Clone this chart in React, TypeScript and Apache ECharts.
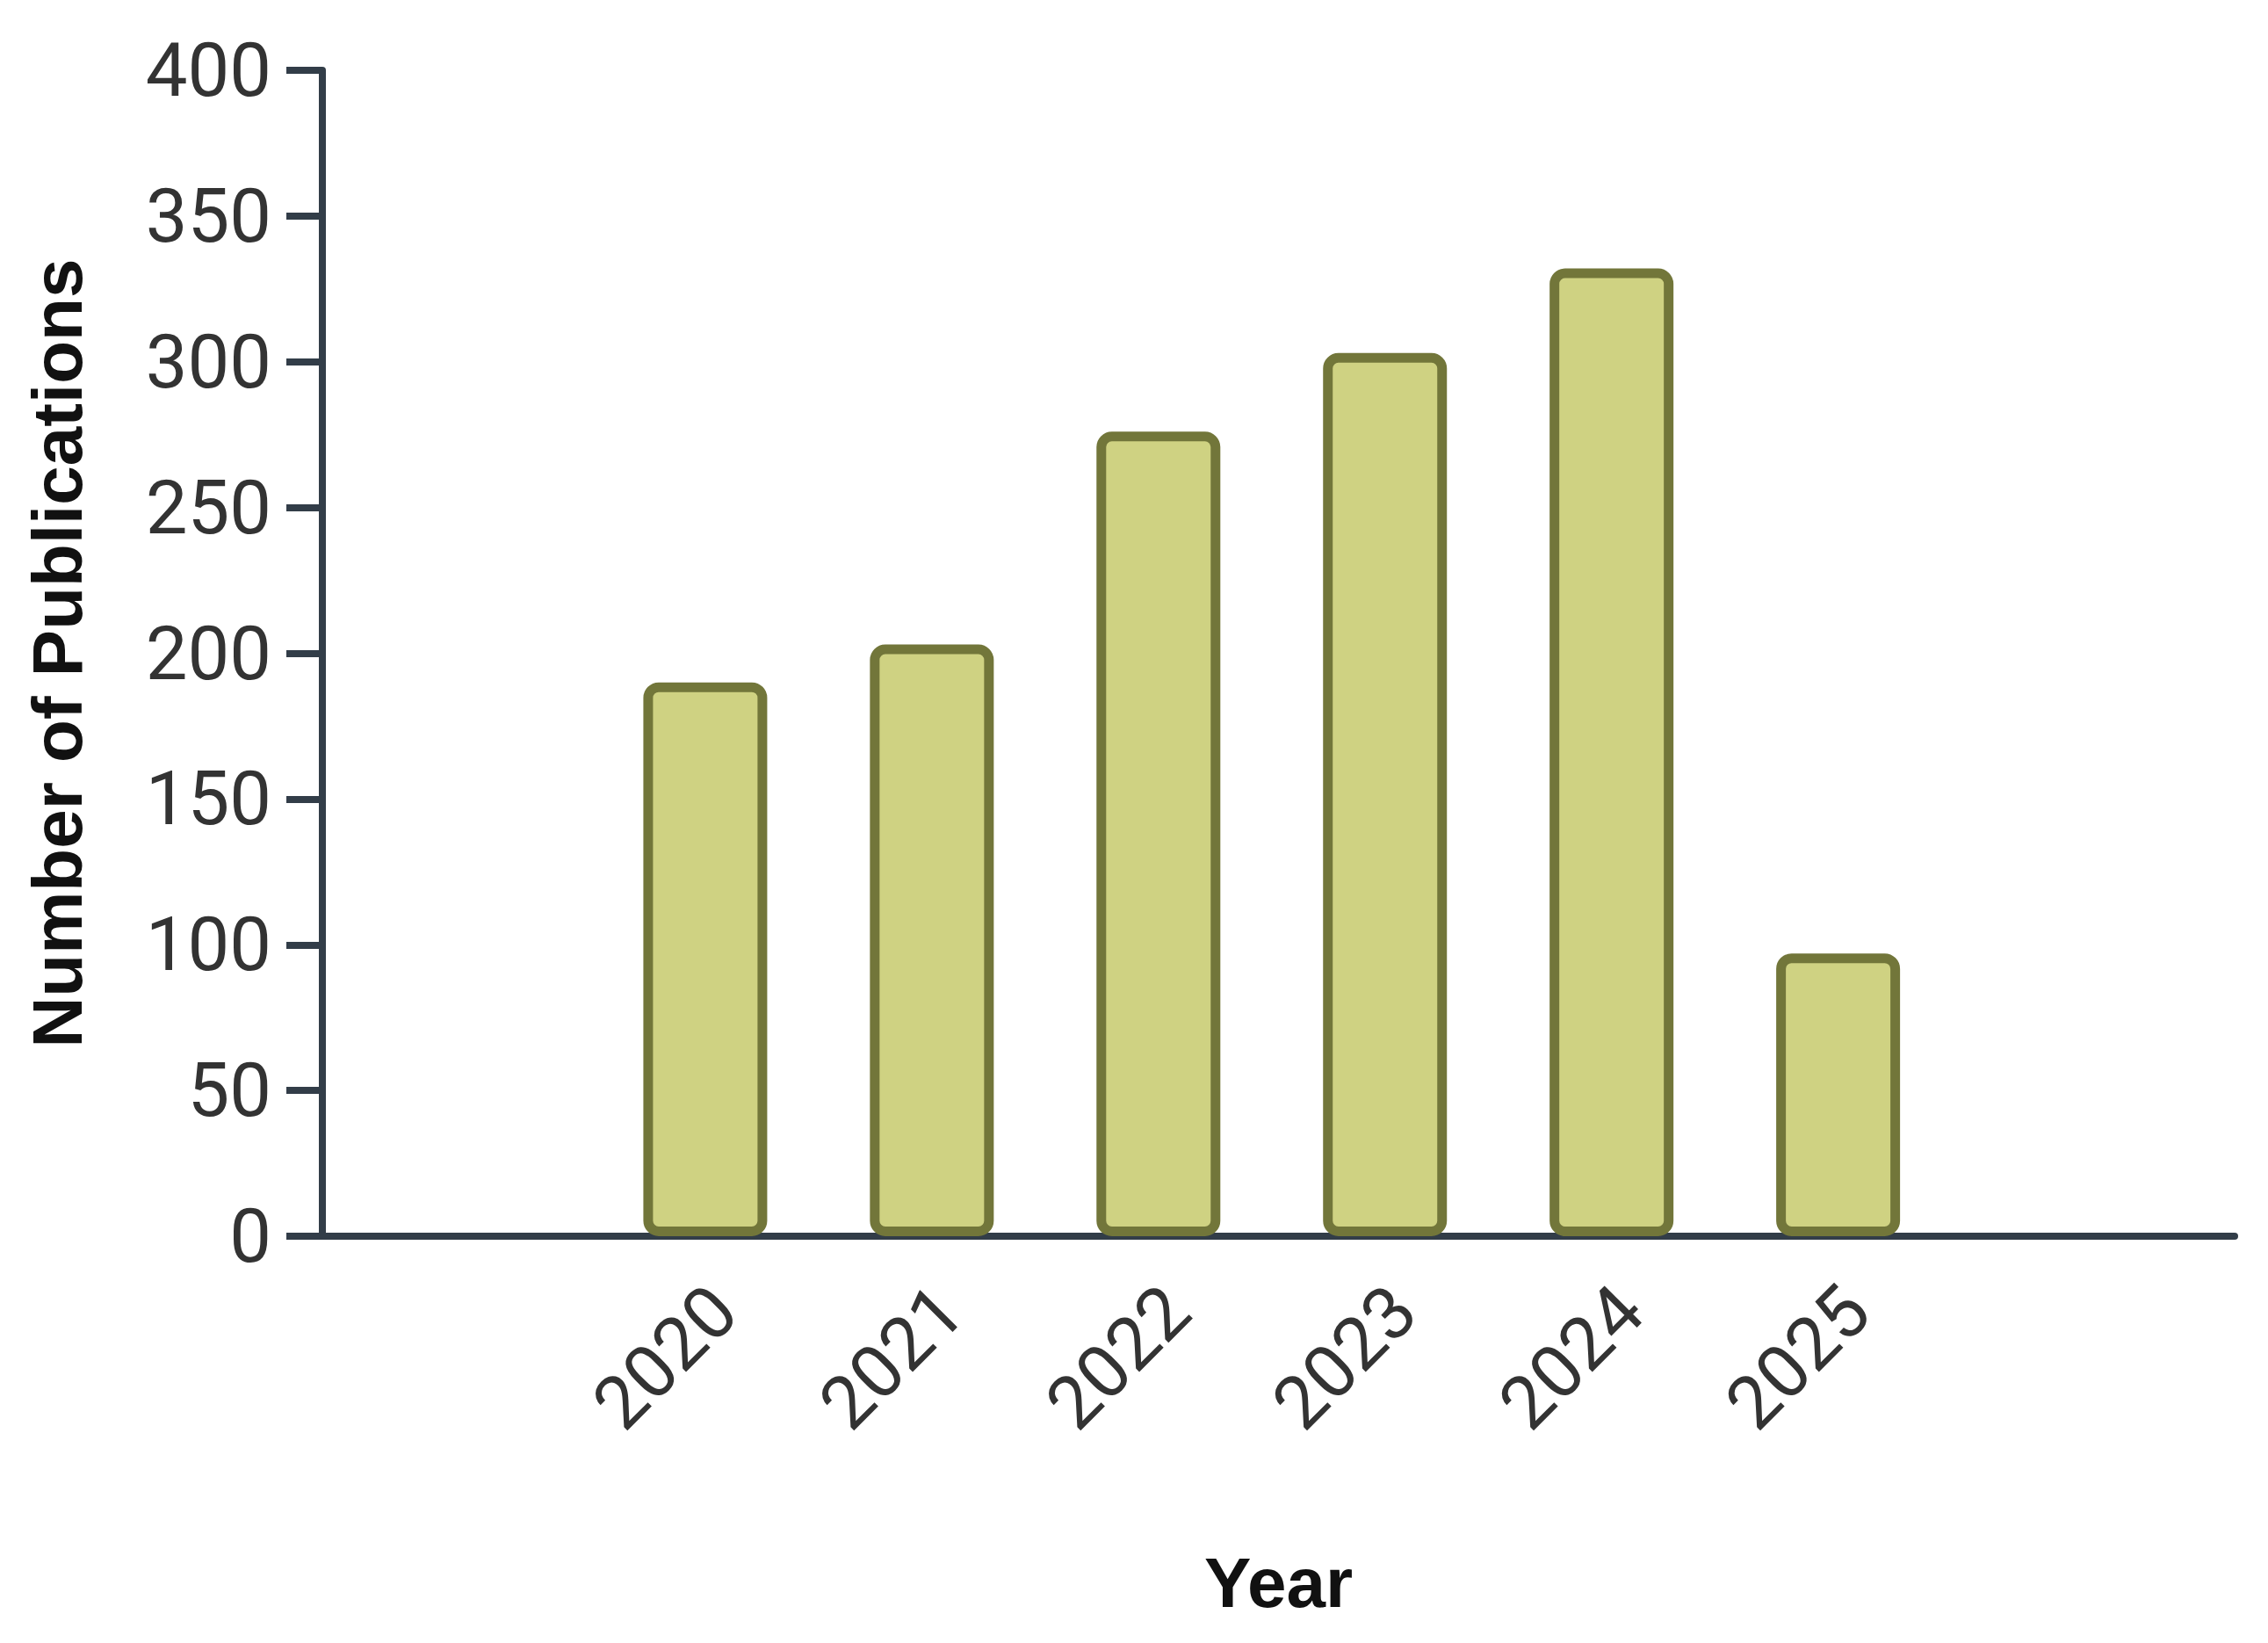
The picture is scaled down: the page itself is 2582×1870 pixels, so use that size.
import React, { useEffect, useRef } from "react";
import * as echarts from "echarts";

const years = [2020, 2021, 2022, 2023, 2024, 2025];
const publications = [190, 203, 276, 303, 332, 97];
const yTicks = [0, 50, 100, 150, 200, 250, 300, 350, 400];

export default function App() {
  const ref = useRef<HTMLDivElement>(null);
  useEffect(() => {
    document.body.style.margin = "0";
    document.body.style.overflow = "hidden";
    const chart = echarts.init(ref.current!, null, { renderer: "svg" });
    const axisColor = "#323d48";
    chart.setOption({
      animation: false,
      backgroundColor: "#ffffff",
      grid: { left: 367, right: 38, top: 80, bottom: 463, containLabel: false },
      xAxis: {
        type: "value",
        min: 2018.31,
        max: 2026.75,
        name: "Year",
        nameLocation: "middle",
        nameGap: 354,
        nameTextStyle: {
          fontFamily: "Liberation Sans",
          fontWeight: "bold",
          fontSize: 80,
          color: "#111111",
        },
        axisLine: { show: true, lineStyle: { color: axisColor, width: 8 } },
        axisTick: { show: false },
        splitLine: { show: false },
        axisLabel: {
          customValues: years,
          rotate: 45,
          margin: 50,
          verticalAlign: "top",
          lineHeight: 60,
          fontFamily: "Roboto",
          fontSize: 84,
          color: "#333333",
          formatter: (v: number) => String(v),
        },
      },
      yAxis: {
        type: "value",
        min: 0,
        max: 400,
        interval: 50,
        name: "Number of Publications",
        nameLocation: "middle",
        nameGap: 262,
        nameTextStyle: {
          fontFamily: "Liberation Sans",
          fontWeight: "bold",
          fontSize: 80,
          color: "#111111",
        },
        axisLine: { show: true, lineStyle: { color: axisColor, width: 8 } },
        axisTick: { show: true, length: 41, lineStyle: { color: axisColor, width: 8 } },
        splitLine: { show: false },
        axisLabel: {
          customValues: yTicks,
          margin: 58,
          fontFamily: "Roboto",
          fontSize: 85,
          color: "#333333",
        },
      },
      series: [
        {
          type: "bar",
          data: years.map((y, i) => [y, publications[i]]),
          barWidth: 141,
          itemStyle: {
            color: "#cfd282",
            borderColor: "#72763a",
            borderWidth: 11,
            borderRadius: 12,
          },
        },
      ],
    });
    return () => chart.dispose();
  }, []);
  return <div ref={ref} style={{ width: 2582, height: 1870 }} />;
}
